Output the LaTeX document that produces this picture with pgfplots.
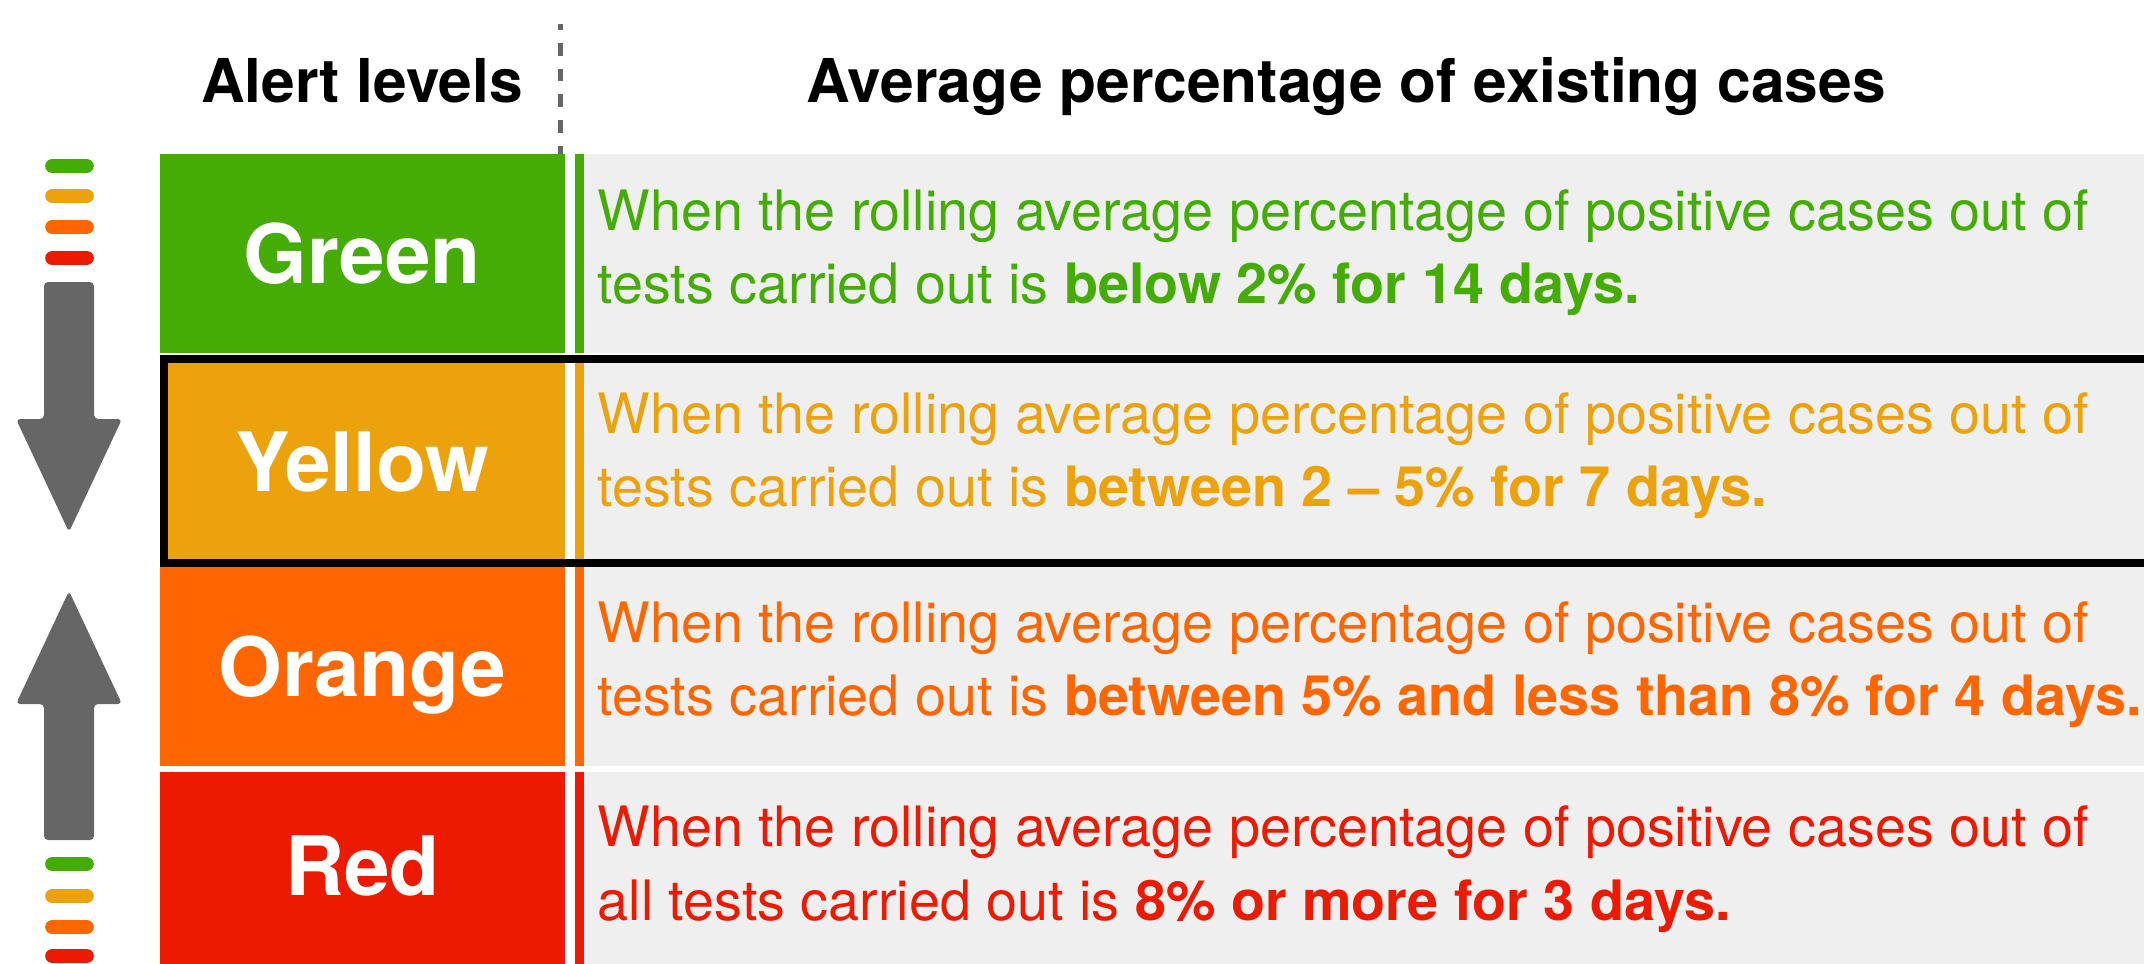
\documentclass[border=0pt]{standalone}
\usepackage{pgfplots}
\pgfplotsset{compat=1.18}
\usepackage{fontspec}
\setmainfont{TeX Gyre Heros}
\definecolor{cgreen}{RGB}{68,172,4}
\definecolor{cyellow}{RGB}{235,162,12}
\definecolor{corange}{RGB}{255,102,0}
\definecolor{cred}{RGB}{235,26,0}
\definecolor{cbg}{RGB}{239,239,239}
\definecolor{cgray}{RGB}{102,102,102}
\newcommand{\body}{\fontsize{15.85pt}{18pt}\selectfont}
\newcommand{\lab}{\fontsize{23.3pt}{26pt}\selectfont\bfseries}
\newcommand{\head}{\fontsize{17.2pt}{20pt}\selectfont\bfseries}
\begin{document}
\begin{tikzpicture}
\begin{axis}[hide axis, scale only axis, width=214.4mm, height=96.3mm,
  xmin=0, xmax=2144, ymin=0, ymax=963, y dir=reverse, clip=true]
% row label boxes
\addplot[fill=cgreen, draw=none] coordinates {(160,154) (565,154) (565,353) (160,353)} -- cycle;
\addplot[fill=cyellow, draw=none] coordinates {(160,355) (565,355) (565,567) (160,567)} -- cycle;
\addplot[fill=corange, draw=none] coordinates {(160,567) (565,567) (565,766) (160,766)} -- cycle;
\addplot[fill=cred, draw=none] coordinates {(160,772) (565,772) (565,970) (160,970)} -- cycle;
% strips
\addplot[fill=cgreen, draw=none] coordinates {(575,154) (584,154) (584,353) (575,353)} -- cycle;
\addplot[fill=cyellow, draw=none] coordinates {(575,355) (584,355) (584,567) (575,567)} -- cycle;
\addplot[fill=corange, draw=none] coordinates {(575,567) (584,567) (584,766) (575,766)} -- cycle;
\addplot[fill=cred, draw=none] coordinates {(575,772) (584,772) (584,970) (575,970)} -- cycle;
% grey backgrounds
\addplot[fill=cbg, draw=none] coordinates {(584,154) (2200,154) (2200,353) (584,353)} -- cycle;
\addplot[fill=cbg, draw=none] coordinates {(584,355) (2200,355) (2200,567) (584,567)} -- cycle;
\addplot[fill=cbg, draw=none] coordinates {(584,567) (2200,567) (2200,766) (584,766)} -- cycle;
\addplot[fill=cbg, draw=none] coordinates {(584,772) (2200,772) (2200,970) (584,970)} -- cycle;
% black border round the yellow row
\addplot[draw=black, line width=0.8mm] coordinates {(2200,359) (164,359) (164,562.7) (2200,562.7)};
% dashed divider
\addplot[draw=cgray, line width=0.5mm, dash pattern=on 1.27mm off 1.3mm, dash phase=0.67mm] coordinates {(560.5,24) (560.5,154)};
% pills
\addplot[draw=cgreen, line width=1.47mm, line cap=round] coordinates {(52.5,166) (86.5,166)};
\addplot[draw=cyellow, line width=1.47mm, line cap=round] coordinates {(52.5,196) (86.5,196)};
\addplot[draw=corange, line width=1.47mm, line cap=round] coordinates {(52.5,227) (86.5,227)};
\addplot[draw=cred, line width=1.47mm, line cap=round] coordinates {(52.5,258) (86.5,258)};
\addplot[draw=cgreen, line width=1.47mm, line cap=round] coordinates {(52.5,864) (86.5,864)};
\addplot[draw=cyellow, line width=1.47mm, line cap=round] coordinates {(52.5,896) (86.5,896)};
\addplot[draw=corange, line width=1.47mm, line cap=round] coordinates {(52.5,927) (86.5,927)};
\addplot[draw=cred, line width=1.47mm, line cap=round] coordinates {(52.5,956) (86.5,956)};
% arrows
\addplot[fill=cgray, draw=none, rounded corners=0.4mm] coordinates {(44,282) (94,282) (94,419) (122,419) (69,532) (16,419) (44,419)} -- cycle;
\addplot[fill=cgray, draw=none, rounded corners=0.4mm] coordinates {(44,840) (94,840) (94,704) (122,704) (69,591) (16,704) (44,704)} -- cycle;
% headers
\node[anchor=base, font=\head, inner sep=0] at (axis cs:362,102) {Alert levels};
\node[anchor=base, font=\head, inner sep=0] at (axis cs:1346,102) {Average percentage of existing cases};
% labels
\node[anchor=base, font=\lab, text=white, inner sep=0] at (axis cs:362.5,283.5) {Green};
\node[anchor=base, font=\lab, text=white, inner sep=0] at (axis cs:362.5,491) {Yellow};
\node[anchor=base, font=\lab, text=white, inner sep=0] at (axis cs:362.5,696.5) {Orange};
\node[anchor=base, font=\lab, text=white, inner sep=0] at (axis cs:362.5,895) {Red};
% descriptions
\node[anchor=base west, font=\body, text=cgreen, inner sep=0] at (axis cs:597,230) {When the rolling average percentage of positive cases out of};
\node[anchor=base west, font=\body, text=cgreen, inner sep=0] at (axis cs:597,303) {tests carried out is \textbf{below 2\% for 14 days.}};
\node[anchor=base west, font=\body, text=cyellow, inner sep=0] at (axis cs:597,433) {When the rolling average percentage of positive cases out of};
\node[anchor=base west, font=\body, text=cyellow, inner sep=0] at (axis cs:597,506.7) {tests carried out is \textbf{between 2 – 5\% for 7 days.}};
\node[anchor=base west, font=\body, text=corange, inner sep=0] at (axis cs:597,642.7) {When the rolling average percentage of positive cases out of};
\node[anchor=base west, font=\body, text=corange, inner sep=0] at (axis cs:597,715) {tests carried out is \textbf{between 5\% and less than 8\% for 4 days.}};
\node[anchor=base west, font=\body, text=cred, inner sep=0] at (axis cs:597,846.7) {When the rolling average percentage of positive cases out of};
\node[anchor=base west, font=\body, text=cred, inner sep=0] at (axis cs:597,920) {all tests carried out is \textbf{8\% or more for 3 days.}};
\end{axis}
\pgfresetboundingbox
\path (current axis.south west) rectangle (current axis.north east);
\end{tikzpicture}
\end{document}
